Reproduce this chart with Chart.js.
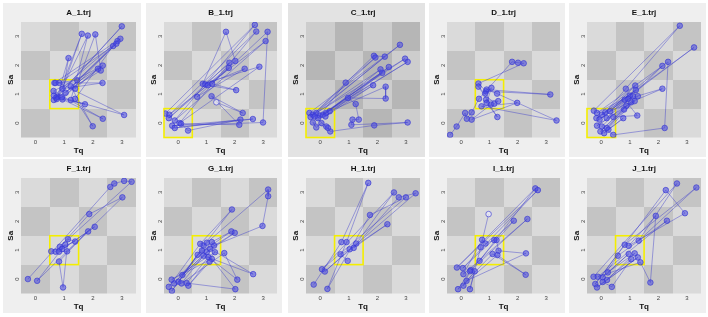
<!DOCTYPE html>
<html><head><meta charset="utf-8">
<script src="https://cdn.jsdelivr.net/npm/chart.js@4.4.0/dist/chart.umd.min.js"></script>
<style>
html,body{margin:0;padding:0;background:#fff;width:708px;height:317px;overflow:hidden;}
.panel{position:absolute;}
.panel canvas{position:absolute;left:0;top:0;}
</style></head><body>
<div id="root"></div>
<script>
// ---------------- data ----------------
const panelTitles = ['A_1.trj','B_1.trj','C_1.trj','D_1.trj','E_1.trj','F_1.trj','G_1.trj','H_1.trj','I_1.trj','J_1.trj'];
const tickValues = [0, 1, 2, 3];
const tickLabels = ['0', '1', '2', '3'];
const targetTq = [1, 0, 0, 1, 0, 1, 1, 1, 1, 1];
const targetSa = [1, 0, 0, 1, 0, 1, 1, 1, 1, 1];
const hollowIndex = [-1, 31, -1, -1, -1, -1, -1, -1, 25, -1];

const tqA = [0.64,3.00,0.77,1.61,0.94,2.33,0.66,2.95,0.94,2.34,0.63,2.34,0.92,1.15,0.74,1.82,1.23,3.08,0.83,2.70,1.38,1.99,1.23,2.17,1.38,2.08,2.27,0.72,1.72,0.64,2.85,1.05,2.81,1.45,0.70];
const saA = [0.80,3.35,0.91,3.09,1.19,1.39,1.39,2.92,0.82,0.15,1.11,1.99,0.89,2.25,0.83,3.03,0.80,0.28,1.39,2.67,0.84,-0.11,1.27,1.88,1.19,3.07,1.82,0.88,0.65,0.95,2.84,1.05,2.75,1.48,1.39];

const tqB = [-0.45,2.71,-0.12,3.09,-0.31,2.76,0.05,2.87,0.87,1.69,2.02,-0.33,1.81,0.96,2.35,0.67,1.79,1.05,2.05,1.20,3.16,3.00,-0.21,2.64,-0.12,2.20,0.35,0.10,2.16,1.18,2.28,1.35];
const saB = [0.33,3.40,0.09,2.84,0.29,3.17,0.00,1.95,1.36,3.16,2.15,0.17,2.09,1.34,1.88,0.91,1.91,1.31,1.14,1.36,3.16,0.02,-0.09,0.14,-0.17,0.12,-0.26,-0.02,-0.06,0.93,0.35,0.72];

const tqC = [-0.38,2.79,-0.26,1.88,2.26,-0.14,2.97,-0.02,3.06,0.09,2.40,0.21,2.11,-0.34,1.93,0.89,-0.08,2.17,0.18,1.85,0.33,2.29,2.29,0.97,1.24,1.35,1.13,1.09,3.06,1.89,0.35,0.27,-0.26,-0.14,0.04,0.21,-0.20];
const saC = [0.35,2.71,0.29,2.33,2.30,0.35,2.23,0.26,2.12,0.29,1.94,0.35,1.86,0.21,2.27,1.40,0.17,1.74,0.23,1.31,0.41,1.26,0.85,0.87,0.66,0.12,0.12,-0.06,0.02,-0.08,-0.29,-0.17,0.02,-0.15,0.00,-0.12,0.23];

const tqD = [-0.39,-0.16,0.14,0.20,0.37,0.63,1.80,2.01,2.21,0.61,0.88,3.15,0.90,1.27,3.37,0.72,1.98,0.37,1.05,0.61,1.17,1.31,0.88,1.28,0.90,1.07,0.85];
const saD = [-0.41,-0.12,0.35,0.15,0.37,0.84,2.12,2.09,2.07,1.37,1.10,0.99,1.16,1.02,0.09,0.58,0.70,0.12,0.64,1.26,0.67,0.76,0.81,0.21,0.70,1.22,1.02];

const tqE = [-0.26,2.75,0.86,0.14,3.25,1.00,-0.15,2.34,2.22,0.42,0.02,2.14,0.31,1.19,0.02,2.14,0.94,-0.17,1.21,-0.06,1.11,0.19,0.82,1.26,0.42,1.05,-0.15,1.17,0.19,0.88,-0.03,0.80,0.10,0.77,0.25,1.28];
const saE = [0.43,3.37,1.19,0.37,2.62,0.95,0.35,2.12,-0.17,-0.41,-0.12,1.98,0.41,1.30,0.29,1.19,0.84,0.17,1.14,0.12,0.93,0.17,0.81,0.26,0.21,0.72,-0.09,0.76,-0.17,0.60,-0.29,0.47,-0.35,0.17,-0.23,0.93];

const tqF = [-0.26,2.60,2.74,3.08,3.34,0.85,1.04,0.06,3.02,1.87,0.70,0.93,2.06,0.82,1.10,1.83,0.82,0.96,1.13,1.38,0.55];
const saF = [0.00,3.19,3.31,3.40,3.37,1.12,1.19,-0.06,2.83,2.25,0.95,1.04,1.81,0.95,0.96,1.65,0.61,-0.29,1.38,1.30,0.96];

const tqG = [-0.33,0.78,1.90,0.90,-0.22,1.01,3.18,3.18,2.98,0.84,-0.14,1.19,1.88,0.69,0.01,1.27,2.00,1.01,0.15,1.13,2.65,0.90,0.12,1.63,2.09,1.07,0.30,2.02,1.19,-0.23,1.30,0.36,1.11];
const saG = [-0.27,1.22,2.41,1.16,-0.41,1.26,3.10,2.87,1.84,0.99,-0.15,1.28,1.65,0.84,-0.09,1.16,1.60,0.93,0.14,1.05,0.17,0.81,-0.15,0.90,-0.02,0.76,-0.14,-0.35,0.70,-0.02,0.93,-0.23,0.60];

const tqH = [-0.23,0.74,1.68,0.92,0.25,1.74,3.00,0.06,2.58,1.26,0.16,3.34,2.75,1.17,2.35,1.03,0.71,0.96];
const saH = [-0.19,1.28,3.33,1.28,-0.34,2.22,2.83,0.34,3.00,1.23,0.26,2.97,2.83,1.08,1.90,1.03,0.86,0.63];

const tqI = [0.65,2.62,-0.15,2.71,0.06,1.86,0.34,2.34,0.08,0.74,0.86,1.17,1.25,1.32,2.29,0.19,1.11,2.28,1.28,-0.11,0.31,0.08,0.48,0.31,0.69,0.97];
const saI = [0.63,3.14,0.40,3.08,0.38,2.02,0.31,2.08,0.17,1.36,1.23,1.35,1.35,0.98,0.89,-0.06,0.87,0.15,0.83,-0.35,0.27,-0.23,0.27,-0.35,1.10,2.25];

const tqJ = [-0.27,2.65,1.31,3.33,0.82,-0.21,2.26,2.93,0.96,1.91,1.72,1.37,-0.12,2.30,0.58,0.05,0.96,0.23,1.17,0.20,1.28,-0.15,1.05,0.37,0.05];
const saJ = [0.08,3.31,1.33,3.17,1.19,-0.17,3.08,2.28,1.15,2.19,-0.12,0.58,0.08,2.02,0.81,0.06,0.87,0.23,0.89,-0.03,0.75,-0.29,0.69,-0.27,-0.10];

const tqSeries = [tqA,tqB,tqC,tqD,tqE,tqF,tqG,tqH,tqI,tqJ];
const saSeries = [saA,saB,saC,saD,saE,saF,saG,saH,saI,saJ];

// ---------------- layout / style ----------------
const FONT = "'Liberation Sans', Arial, Helvetica, sans-serif";
const colLeft = [3, 146, 288, 429, 569];
const plotW = [116, 114, 115, 114, 115];
const rowTop = [3, 159];
const PANEL_H = 154;
const Y_AXIS_W = 18;
const RIGHT_PAD = 4;
const X_AXIS_H = 19.5;
const normalTheme = {bg: '#efefef', light: '#dadada', dark: '#c4c4c4'};
const selectedTheme = {bg: '#e3e3e3', light: '#cdcdcd', dark: '#b6b6b6'};

const boardPlugin = {
  id: 'board',
  beforeDatasetsDraw(chart, args, opts) {
    const {ctx, chartArea: a, scales: {x, y}} = chart;
    ctx.save();
    ctx.beginPath();
    ctx.rect(a.left, a.top, a.right - a.left, a.bottom - a.top);
    ctx.clip();
    tickValues.forEach(i => {
      tickValues.forEach(j => {
        const isTarget = (i === opts.tx && j === opts.ty);
        const dark = ((i + j) % 2 === 0) && !isTarget;
        const x0 = Math.round(x.getPixelForValue(i - 0.5));
        const x1 = Math.round(x.getPixelForValue(i + 0.5));
        const y0 = Math.round(y.getPixelForValue(j + 0.5));
        const y1 = Math.round(y.getPixelForValue(j - 0.5));
        ctx.fillStyle = dark ? opts.dark : opts.light;
        ctx.fillRect(x0, y0, x1 - x0, y1 - y0);
      });
    });
    ctx.restore();
    ctx.save();
    const bx0 = x.getPixelForValue(opts.tx - 0.5), bx1 = x.getPixelForValue(opts.tx + 0.5);
    const by0 = y.getPixelForValue(opts.ty + 0.5), by1 = y.getPixelForValue(opts.ty - 0.5);
    ctx.strokeStyle = '#f4ee00';
    ctx.lineWidth = 1.6;
    ctx.strokeRect(bx0, by0, bx1 - bx0, by1 - by0);
    ctx.restore();
  }
};

function axisCommon(title, isY) {
  const o = {
    type: 'linear', min: -0.5, max: 3.5,
    afterBuildTicks: s => { s.ticks = tickValues.map(v => ({value: v})); },
    grid: {display: false, drawTicks: false},
    border: {display: false},
    ticks: {
      autoSkip: false,
      font: {family: FONT, size: 6},
      color: '#444',
      callback: v => tickLabels[tickValues.indexOf(v)]
    },
    title: {display: true, text: title, color: '#111', font: {family: FONT, size: 8, weight: 'bold'}}
  };
  if (isY) {
    o.afterFit = s => { s.width = Y_AXIS_W; };
    o.ticks.padding = 2;
    o.ticks.minRotation = 90;
    o.ticks.maxRotation = 90;
    o.ticks.crossAlign = 'center';
    o.title.padding = {top: 2.5, bottom: 0};
  } else {
    o.afterFit = s => { s.height = X_AXIS_H; };
    o.ticks.padding = 1;
    o.ticks.maxRotation = 0;
    o.title.padding = {top: 0, bottom: 1.5};
  }
  return o;
}

const root = document.getElementById('root');
panelTitles.forEach((title, k) => {
  const col = k % 5, row = Math.floor(k / 5);
  const theme = (k === 2) ? selectedTheme : normalTheme;
  const w = Y_AXIS_W + plotW[col] + RIGHT_PAD;
  const div = document.createElement('div');
  div.className = 'panel';
  div.style.left = colLeft[col] + 'px';
  div.style.top = rowTop[row] + 'px';
  div.style.width = w + 'px';
  div.style.height = PANEL_H + 'px';
  div.style.background = theme.bg;
  const cv = document.createElement('canvas');
  cv.width = w; cv.height = PANEL_H;
  cv.style.width = w + 'px'; cv.style.height = PANEL_H + 'px';
  div.appendChild(cv);
  root.appendChild(div);

  const tq = tqSeries[k], sa = saSeries[k];
  const hollow = hollowIndex[k];
  new Chart(cv.getContext('2d'), {
    type: 'scatter',
    data: {
      datasets: [{
        data: tq.map((v, i) => ({x: v, y: sa[i]})),
        showLine: true,
        tension: 0,
        borderColor: 'rgba(55,55,205,0.62)',
        borderWidth: 0.7,
        pointRadius: 2.8,
        pointBorderWidth: 0.8,
        pointBackgroundColor: c => c.dataIndex === hollow ? 'rgba(235,235,250,0.7)' : 'rgba(70,70,228,0.55)',
        pointBorderColor: 'rgba(55,55,210,0.8)'
      }]
    },
    options: {
      responsive: false,
      animation: false,
      devicePixelRatio: 1,
      events: [],
      layout: {padding: {left: 0, right: RIGHT_PAD, top: 0, bottom: 0}},
      plugins: {
        legend: {display: false},
        tooltip: {enabled: false},
        title: {
          display: true, text: title, fullSize: false,
          color: '#111',
          font: {family: FONT, size: 8, weight: 'bold'},
          padding: {top: 4.7, bottom: 4.7}
        },
        board: {tx: targetTq[k], ty: targetSa[k], light: theme.light, dark: theme.dark}
      },
      scales: {
        x: axisCommon('Tq', false),
        y: axisCommon('Sa', true)
      }
    },
    plugins: [boardPlugin]
  });
});
</script>
</body></html>
